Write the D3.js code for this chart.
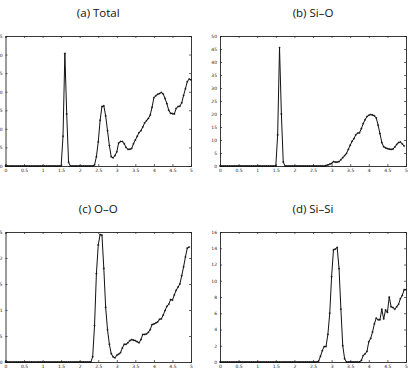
<!DOCTYPE html>
<html>
<head>
<meta charset="utf-8">
<script src="https://cdn.jsdelivr.net/npm/d3@7/dist/d3.min.js"></script>
<style>
  body { margin: 0; background: #fff; }
  svg { display: block; }
  .tick text { font-family: "DejaVu Sans", sans-serif; }
</style>
</head>
<body>
<div id="chart"></div>
<script>
// r grid: 0 .. 5 in steps of 0.05 (101 samples)
var rValues = d3.range(101).map(function(i) { return +(i * 0.05).toFixed(2); });
var xTicks = [0, 0.5, 1, 1.5, 2, 2.5, 3, 3.5, 4, 4.5, 5];
var xTickLabels = ["0", "0.5", "1", "1.5", "2", "2.5", "3", "3.5", "4", "4.5", "5"];

var titles = ["(a) Total", "(b) Si\u2013O", "(c) O\u2013O", "(d) Si\u2013Si"];

var totalG = [
  0,0,0,0,0,0,0,0,0,0, 0,0,0,0,0,0,0,0,0,0, 0,0,0,0,0,0,0,0,0,0, 0,
  8, 30.3, 14, 1, 0, 0, 0, 0, 0, 0, 0, 0, 0, 0,
  0, 0, 0, 0.3, 2.5, 6.5, 12.3, 16, 16.2, 13.5,
  9.5, 5.5, 2.5, 2.2, 2.8, 3.8, 6.2, 6.6, 6.6, 6,
  5, 4.5, 4.5, 4.7, 6, 7, 8, 9, 9.5, 10.5,
  11.6, 12.2, 12.8, 13.7, 15.8, 18.4, 18.9, 19.3, 19.5, 19.8,
  19.4, 18.2, 16.8, 15, 14.2, 14.1, 14, 15.5, 16, 16.1,
  17, 19, 20.8, 22.7, 23.4, 23.2
];

var siOG = [
  0,0,0,0,0,0,0,0,0,0, 0,0,0,0,0,0,0,0,0,0, 0,0,0,0,0,0,0,0,0,0, 0,
  12, 45.5, 20, 1.5, 0, 0, 0, 0, 0, 0, 0, 0, 0, 0,
  0, 0, 0, 0, 0, 0, 0, 0, 0, 0,
  0, 0, 0.2, 0.4, 0.7, 1.0, 1.7, 1.5, 1.5, 1.7,
  2.4, 3.2, 4, 4.8, 6.4, 8, 9.5, 10.5, 12, 12.6,
  12.8, 14.4, 16.3, 17.8, 19, 19.5, 19.8, 19.6, 19.3, 18.5,
  15.7, 12.5, 9, 7.4, 7, 6.7, 6.5, 6.4, 6.5, 7.3,
  8.3, 9, 9.2, 8.5, 7.7
];

var oOG = [
  0,0,0,0,0,0,0,0,0,0, 0,0,0,0,0,0,0,0,0,0, 0,0,0,0,0,0,0,0,0,0,
  0, 0, 0, 0, 0, 0, 0, 0, 0, 0,
  0, 0, 0, 0, 0, 0, 0, 0.1, 0.7, 1.7,
  2.25, 2.45, 2.44, 1.8, 1.05, 0.62, 0.34, 0.16, 0.1, 0.08,
  0.13, 0.15, 0.18, 0.27, 0.34, 0.34, 0.37, 0.41, 0.43, 0.42,
  0.41, 0.39, 0.37, 0.43, 0.53, 0.53, 0.54, 0.57, 0.62, 0.72,
  0.73, 0.75, 0.77, 0.82, 0.83, 0.9, 0.99, 1.07, 1.11, 1.2,
  1.19, 1.29, 1.38, 1.44, 1.5, 1.66, 1.83, 2.02, 2.19, 2.21
];

var siSiG = [
  0,0,0,0,0,0,0,0,0,0, 0,0,0,0,0,0,0,0,0,0, 0,0,0,0,0,0,0,0,0,0,
  0, 0, 0, 0, 0, 0, 0, 0, 0, 0,
  0, 0, 0, 0, 0, 0, 0, 0, 0, 0,
  0, 0, 0, 0.1, 0.7, 1.4, 1.9, 1.9, 3.4, 6,
  10.5, 13.8, 13.9, 14.1, 11.5, 6.5, 2, 0.4, 0, 0,
  0, 0, 0, 0, 0, 0, 0.2, 0.8, 1.0, 1.3,
  2.5, 2.9, 3.7, 4.7, 5.4, 5.2, 5.2, 6.5, 5.3, 6.4,
  6.1, 8, 6.8, 6.7, 6.5, 6.8, 7.1, 7.8, 8.2, 8.9, 8.9
];

var yMaxes = [35, 50, 2.5, 16];
var yTickSets = [
  [0, 5, 10, 15, 20, 25, 30, 35],
  [0, 5, 10, 15, 20, 25, 30, 35, 40, 45, 50],
  [0, 0.5, 1, 1.5, 2, 2.5],
  [0, 2, 4, 6, 8, 10, 12, 14, 16]
];
var series = [totalG, siOG, oOG, siSiG];

var W = 412, H = 377;
var svg = d3.select("#chart").append("svg").attr("width", W).attr("height", H);

// panel plot boxes: [left, top, right, bottom]
var boxes = [
  [5.5, 36, 191, 166],
  [220, 36, 406, 166],
  [5.5, 232, 191, 362],
  [220, 232, 406, 362]
];
var titleY = [14, 14, 210, 210];

series.forEach(function(vals, k) {
  var b = boxes[k];
  var x = d3.scaleLinear().domain([0, 5]).range([b[0], b[2]]);
  var y = d3.scaleLinear().domain([0, yMaxes[k]]).range([b[3], b[1]]);
  var g = svg.append("g");

  // title
  g.append("text")
    .attr("x", (b[0] + b[2]) / 2)
    .attr("y", titleY[k])
    .attr("text-anchor", "middle")
    .attr("dominant-baseline", "middle")
    .attr("font-family", "'Open Sans', 'DejaVu Sans', sans-serif")
    .attr("font-size", "11.5px")
    .attr("fill", "#111")
    .text(titles[k]);

  // axes, ticks inward on all four sides
  var fmtX = function(d, i) { return xTickLabels[i]; };
  g.append("g").attr("transform", "translate(0," + b[3] + ")")
    .call(d3.axisBottom(x).tickValues(xTicks).tickFormat(fmtX).tickSize(-2).tickPadding(3));
  g.append("g").attr("transform", "translate(0," + b[1] + ")")
    .call(d3.axisTop(x).tickValues(xTicks).tickFormat("").tickSize(-2));
  g.append("g").attr("transform", "translate(" + b[0] + ",0)")
    .call(d3.axisLeft(y).tickValues(yTickSets[k]).tickFormat(d3.format("")).tickSize(-2).tickPadding(3));
  g.append("g").attr("transform", "translate(" + b[2] + ",0)")
    .call(d3.axisRight(y).tickValues(yTickSets[k]).tickFormat("").tickSize(-2));

  g.selectAll(".domain").attr("stroke", "#222").attr("stroke-width", 0.9);
  g.selectAll(".tick line").attr("stroke", "#222").attr("stroke-width", 0.7);
  g.selectAll(".tick text").attr("font-size", "4.5px").attr("fill", "#222");

  var pts = rValues.map(function(r, i) { return [r, vals[i]]; });

  g.append("path")
    .datum(pts)
    .attr("fill", "none")
    .attr("stroke", "#111")
    .attr("stroke-width", 1)
    .attr("d", d3.line().x(function(d) { return x(d[0]); }).y(function(d) { return y(d[1]); }));

  // small "+" markers at every sample
  g.selectAll("path.pt").data(pts).enter()
    .append("path")
    .attr("class", "pt")
    .attr("d", function(d) {
      var cx = x(d[0]), cy = y(d[1]);
      return "M" + (cx - 1) + "," + cy + "H" + (cx + 1) + "M" + cx + "," + (cy - 1) + "V" + (cy + 1);
    })
    .attr("stroke", "#111")
    .attr("stroke-width", 0.7);
});
</script>
</body>
</html>
